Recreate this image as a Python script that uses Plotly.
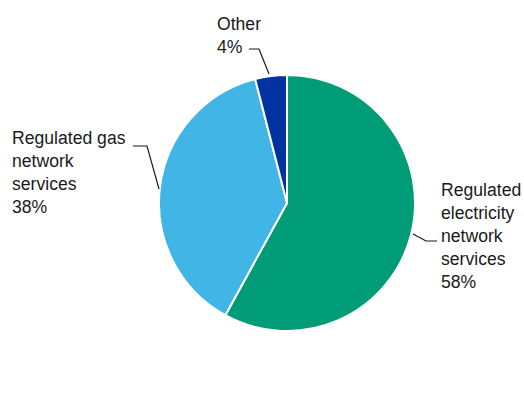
import plotly.graph_objects as go

W, H = 524, 413

labels = ["Regulated<br>electricity<br>network<br>services", "Regulated gas<br>network<br>services", "Other"]
values = [58, 38, 4]
colors = ["#009B77", "#41B6E6", "#0033A0"]

# pie geometry in screen pixels (for domain)
cx, cy, r = 287, 203, 128

def px(x):
    return x / W

def py(y):
    return 1 - y / H

fig = go.Figure(go.Pie(
    labels=labels,
    values=values,
    sort=False,
    direction="clockwise",
    rotation=0,
    marker=dict(colors=colors, line=dict(color="white", width=2)),
    textinfo="none",
    hoverinfo="label+percent",
    showlegend=False,
    domain=dict(x=[px(cx - r), px(cx + r)], y=[py(cy + r), py(cy - r)]),
))

# label positions (screen pixels): x-left, y-center
label_pos = [(439, 236), (10, 172), (215, 35)]
leaders = [
    [(413, 234), (426, 241), (437, 241)],
    [(133, 146), (147, 146), (159, 189)],
    [(249, 49), (259, 49), (269, 74)],
]

for lab, val, (lx, ly) in zip(labels, values, label_pos):
    fig.add_annotation(
        x=px(lx), y=py(ly), xref="paper", yref="paper",
        xanchor="left", yanchor="middle", align="left",
        text=f"{lab}<br>{val}%", showarrow=False,
        font=dict(family="Arial, Liberation Sans, sans-serif", size=17.6, color="#1a1a1a"),
    )

for pts in leaders:
    path = "M " + " L ".join(f"{px(x)},{py(y)}" for x, y in pts)
    fig.add_shape(type="path", path=path, xref="paper", yref="paper",
                  line=dict(color="#1a1a1a", width=1.2))

fig.update_layout(
    width=W, height=H,
    margin=dict(l=0, r=0, t=0, b=0),
    paper_bgcolor="white", plot_bgcolor="white",
)

fig.write_html(
    "out.html",
    config={"displayModeBar": False},
    post_script="document.body.style.margin='0';document.body.style.overflow='hidden';",
)
